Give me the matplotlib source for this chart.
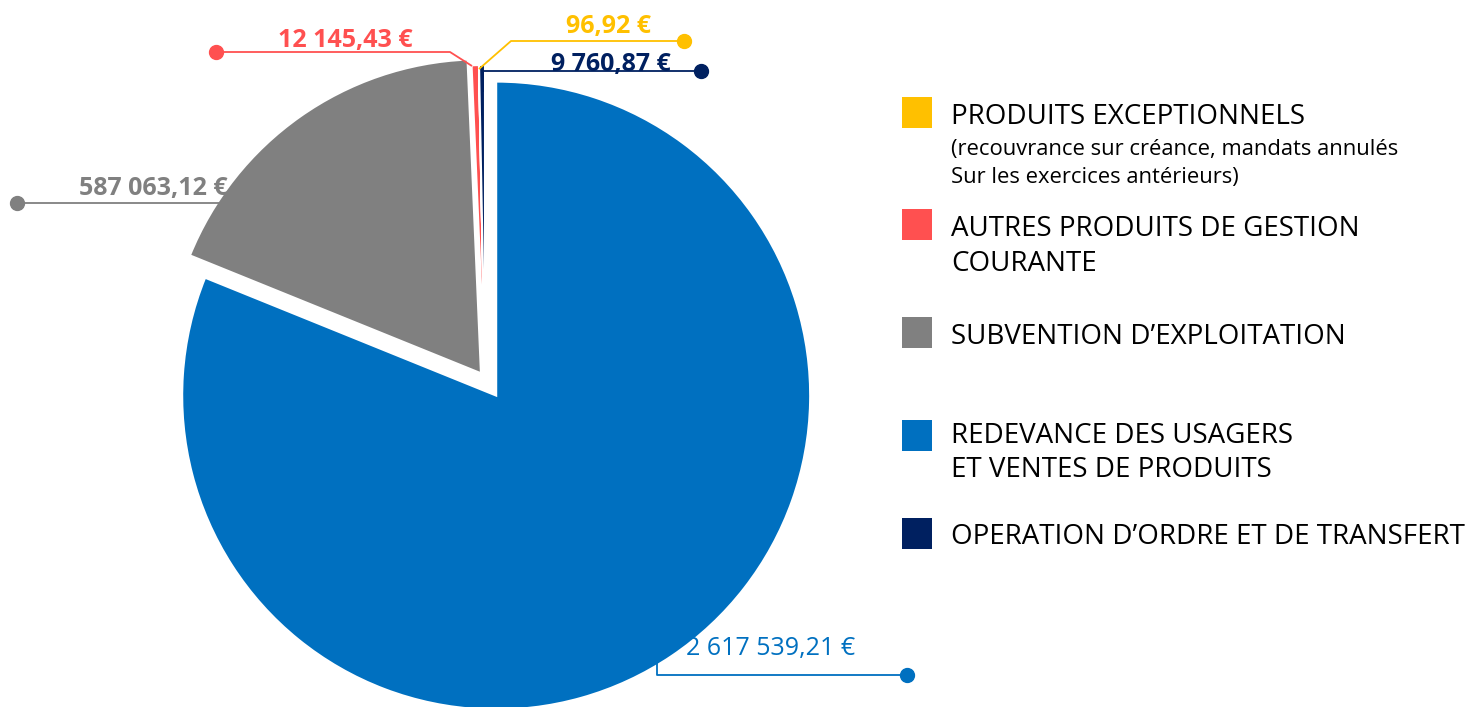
import matplotlib
matplotlib.use("Agg")
import matplotlib.pyplot as plt
from matplotlib.patches import Rectangle

plt.rcParams['font.family'] = ['Open Sans', 'DejaVu Sans']

# données (ordre du camembert, sens horaire depuis midi)
slices = ["REDEVANCE", "SUBVENTION", "AUTRES", "EXCEPTIONNELS", "OPERATION"]
values = [2617539.21, 587063.12, 12145.43, 96.92, 9760.87]
labels = ["2 617 539,21 €", "587 063,12 €", "12 145,43 €", "96,92 €", "9 760,87 €"]
colors = ["#0070C0", "#808080", "#FF5050", "#FFC000", "#002060"]

legend_titles = [
    ["PRODUITS EXCEPTIONNELS"],
    ["AUTRES PRODUITS DE GESTION", "COURANTE"],
    ["SUBVENTION D\u2019EXPLOITATION"],
    ["REDEVANCE DES USAGERS", "ET VENTES DE PRODUITS"],
    ["OPERATION D\u2019ORDRE ET DE TRANSFERT"],
]
legend_colors = ["#FFC000", "#FF5050", "#808080", "#0070C0", "#002060"]
legend_sub = ["(recouvrance sur créance, mandats annulés", "Sur les exercices antérieurs)"]

W, H = 1479, 707
def Y(y):
    return H - y

fig = plt.figure(figsize=(W / 100, H / 100), dpi=100)
ax = fig.add_axes([0, 0, 1, 1])

R = 314
ax.pie(values, colors=colors, startangle=90, counterclock=False,
       explode=[20, 7, 0, 0, 0], radius=R, center=(485, Y(379)),
       wedgeprops=dict(edgecolor="white", linewidth=1.5))

ax.set_xlim(0, W)
ax.set_ylim(0, H)
ax.set_aspect("equal")
ax.axis("off")

# étiquettes + lignes de rappel
def leader(pts, col):
    xs = [p[0] for p in pts]
    ys = [Y(p[1]) for p in pts]
    ax.plot(xs, ys, color=col, lw=1.3, solid_capstyle="butt")
    ax.plot(xs[0], ys[0], "o", color=col, ms=10)

def value_label(x, y, i, bold=True):
    ax.text(x, Y(y), labels[i], color=colors[i], fontsize=18,
            fontweight="bold" if bold else "normal", ha="center", va="center")

# rouge
leader([(216, 52), (450, 52), (472, 66)], colors[2])
value_label(345, 41, 2)
# jaune
leader([(684, 41), (511, 41), (479, 69)], colors[3])
value_label(609, 26, 3)
# bleu marine
leader([(701, 71), (483, 71), (483, 92)], colors[4])
value_label(611, 65, 4)
# gris
leader([(17, 203), (222, 203)], colors[1])
value_label(153, 189, 1)
# bleu
leader([(907, 675), (657, 675), (657, 658)], colors[0])
value_label(771, 649, 0, bold=False)

# légende
sq_y = [97, 209, 317, 420, 518]
txt_y = [[117], [229, 264], [337], [436, 470], [537]]
for c, lines, sy, ys in zip(legend_colors, legend_titles, sq_y, txt_y):
    ax.add_patch(Rectangle((902, Y(sy + 31)), 30, 31, color=c, lw=0))
    for line, ty in zip(lines, ys):
        ax.text(951, Y(ty), line, fontsize=20, va="center", ha="left",
                color="black")
for line, ty in zip(legend_sub, [150, 178]):
    ax.text(951, Y(ty), line, fontsize=15.8, va="center", ha="left",
            color="black")

fig.savefig("out.png", dpi=100)
